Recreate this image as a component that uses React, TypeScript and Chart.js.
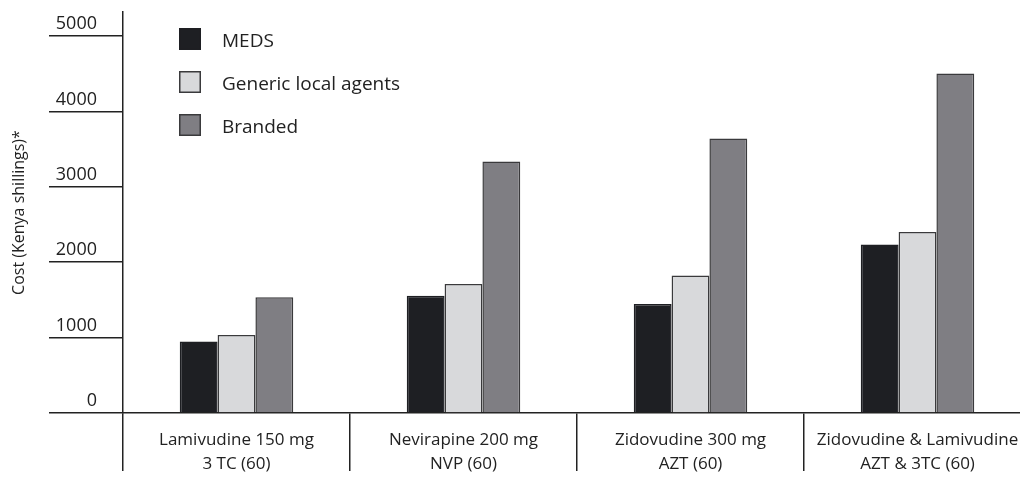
import React, { useEffect, useRef } from "react";
import { Chart, registerables } from "chart.js";

Chart.register(...registerables);

const categories: string[][] = [
  ["Lamivudine 150 mg", "3 TC (60)"],
  ["Nevirapine 200 mg", "NVP (60)"],
  ["Zidovudine 300 mg", "AZT (60)"],
  ["Zidovudine & Lamivudine", "AZT & 3TC (60)"],
];
const seriesNames = ["MEDS", "Generic local agents", "Branded"];
const medsValues = [948, 1555, 1445, 2235];
const genericValues = [1035, 1710, 1825, 2400];
const brandedValues = [1537, 3338, 3642, 4503];
const yTicks = [0, 1000, 2000, 3000, 4000, 5000];
const yTitle = "Cost (Kenya shillings)*";

const fills = ["#1e1f23", "#d8d9db", "#7f7e83"];
const borders = ["#1e1f23", "#3a3a3c", "#3a3a3c"];
const FONT = "'Open Sans', 'Noto Sans', sans-serif";
const INK = "#222222";

const legendPlugin = {
  id: "innerLegend",
  afterDatasetsDraw(chart: any) {
    const ctx = chart.ctx;
    const x0 = 179;
    const y0 = 28;
    const size = 22;
    const gap = 43;
    ctx.save();
    chart.data.datasets.forEach((ds: any, i: number) => {
      const y = y0 + i * gap;
      ctx.fillStyle = ds.backgroundColor;
      ctx.fillRect(x0, y, size, size);
      ctx.strokeStyle = ds.borderColor;
      ctx.lineWidth = 1.5;
      ctx.strokeRect(x0 + 0.75, y + 0.75, size - 1.5, size - 1.5);
      ctx.fillStyle = INK;
      ctx.font = `19px ${FONT}`;
      ctx.textBaseline = "middle";
      ctx.textAlign = "left";
      ctx.fillText(ds.label, 222, y + size / 2 + 3);
    });
    ctx.restore();
  },
};

export default function App() {
  const canvasRef = useRef<HTMLCanvasElement | null>(null);

  useEffect(() => {
    if (!canvasRef.current) return;
    const values = [medsValues, genericValues, brandedValues];
    const chart = new Chart(canvasRef.current, {
      type: "bar",
      data: {
        labels: categories,
        datasets: seriesNames.map((name, i) => ({
          label: name,
          data: values[i],
          backgroundColor: fills[i],
          borderColor: borders[i],
          borderWidth: 1.5,
          barPercentage: 1,
          categoryPercentage: 0.5,
        })),
      },
      options: {
        animation: false,
        responsive: false,
        maintainAspectRatio: false,
        layout: { padding: { top: 12, left: 0, right: 9, bottom: 0 } },
        plugins: {
          legend: { display: false },
          tooltip: { enabled: false },
        },
        scales: {
          x: {
            offset: true,
            grid: {
              offset: true,
              drawOnChartArea: false,
              tickLength: 58,
              color: INK,
              lineWidth: 1.5,
            },
            border: { display: true, color: INK, width: 1.5 },
            ticks: {
              padding: -42,
              color: INK,
              maxRotation: 0,
              autoSkip: false,
              font: { family: FONT, size: 17, lineHeight: 1.36 },
            },
            afterFit(scale: any) {
              scale.height = 65;
            },
          },
          y: {
            min: 0,
            max: 5320,
            ticks: {
              stepSize: 1000,
              padding: -48,
              labelOffset: -12,
              color: INK,
              font: { family: FONT, size: 18 },
              callback: (v: any) => String(v),
            },
            afterBuildTicks(scale: any) {
              scale.ticks = yTicks.map((v) => ({ value: v }));
            },
            grid: {
              drawOnChartArea: false,
              tickLength: 74,
              color: INK,
              lineWidth: 1.5,
            },
            border: { display: true, color: INK, width: 1.5 },
            title: {
              display: true,
              text: yTitle,
              color: INK,
              padding: { top: 10, bottom: 0 },
              font: { family: FONT, size: 16 },
            },
            afterFit(scale: any) {
              scale.width = 123;
            },
          },
        },
      },
      plugins: [legendPlugin],
    } as any);
    return () => chart.destroy();
  }, []);

  return (
    <div
      style={{
        position: "fixed",
        left: 0,
        top: 0,
        width: 1020,
        height: 478,
        overflow: "hidden",
        background: "#ffffff",
      }}
    >
      <canvas
        ref={canvasRef}
        width={1040}
        height={478}
        style={{ width: 1040, height: 478, display: "block" }}
      />
    </div>
  );
}
